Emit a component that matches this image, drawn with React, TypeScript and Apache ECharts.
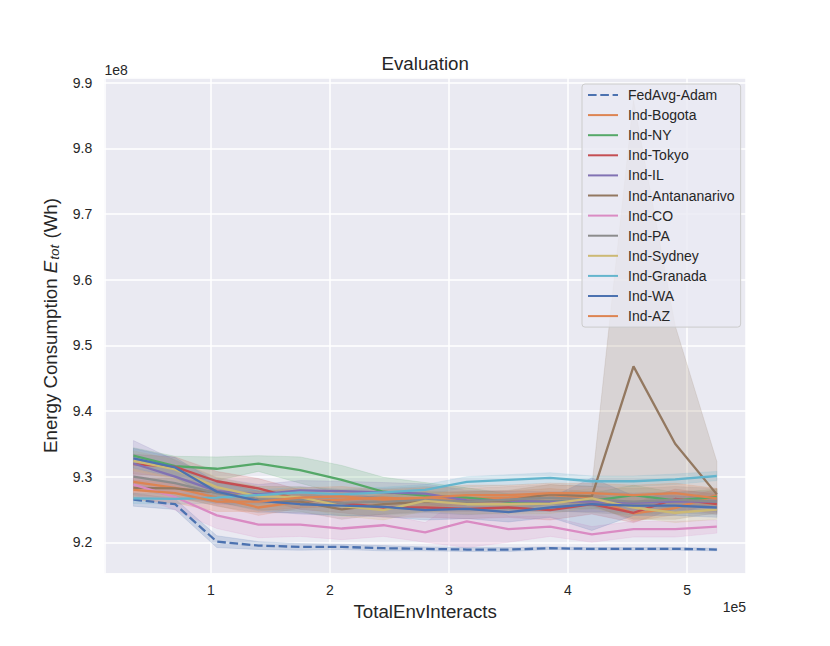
import React, { useEffect, useRef } from "react";
import * as echarts from "echarts";

// x positions (units of 1e5 TotalEnvInteracts)
const steps = [0.35, 0.7, 1.05, 1.4, 1.75, 2.1, 2.45, 2.8, 3.15, 3.5, 3.85, 4.2, 4.55, 4.9, 5.25];

const seriesNames = [
  "FedAvg-Adam",
  "Ind-Bogota",
  "Ind-NY",
  "Ind-Tokyo",
  "Ind-IL",
  "Ind-Antananarivo",
  "Ind-CO",
  "Ind-PA",
  "Ind-Sydney",
  "Ind-Granada",
  "Ind-WA",
  "Ind-AZ",
];

const seriesColors = [
  "#4C72B0", "#DD8452", "#55A868", "#C44E52", "#8172B3", "#937860",
  "#DA8BC3", "#8C8C8C", "#CCB974", "#64B5CD", "#4C72B0", "#DD8452",
];

// mean values (units of 1e8 Wh)
const fedAvgAdam = [9.265, 9.258, 9.201, 9.195, 9.193, 9.193, 9.191, 9.19, 9.189, 9.189, 9.191, 9.19, 9.19, 9.19, 9.189];
const indBogota = [9.292, 9.283, 9.268, 9.253, 9.262, 9.265, 9.268, 9.265, 9.267, 9.268, 9.272, 9.267, 9.244, 9.252, 9.272];
const indNY = [9.332, 9.316, 9.312, 9.32, 9.31, 9.295, 9.277, 9.271, 9.268, 9.262, 9.262, 9.263, 9.272, 9.264, 9.269];
const indTokyo = [9.319, 9.315, 9.293, 9.282, 9.265, 9.26, 9.253, 9.253, 9.251, 9.253, 9.249, 9.258, 9.245, 9.266, 9.258];
const indIL = [9.32, 9.3, 9.278, 9.273, 9.279, 9.278, 9.276, 9.274, 9.264, 9.263, 9.262, 9.262, 9.26, 9.262, 9.262];
const indAntananarivo = [9.283, 9.282, 9.276, 9.265, 9.262, 9.25, 9.258, 9.262, 9.262, 9.264, 9.273, 9.27, 9.468, 9.35, 9.273];
const indCO = [9.288, 9.269, 9.241, 9.227, 9.227, 9.221, 9.226, 9.215, 9.232, 9.22, 9.224, 9.212, 9.22, 9.22, 9.224];
const indPA = [9.3, 9.29, 9.275, 9.265, 9.265, 9.26, 9.262, 9.265, 9.262, 9.265, 9.268, 9.265, 9.262, 9.265, 9.262];
const indSydney = [9.324, 9.311, 9.284, 9.27, 9.269, 9.255, 9.249, 9.263, 9.258, 9.258, 9.259, 9.267, 9.253, 9.245, 9.25];
const indGranada = [9.267, 9.266, 9.268, 9.272, 9.276, 9.273, 9.276, 9.28, 9.292, 9.295, 9.298, 9.293, 9.293, 9.296, 9.301];
const indWA = [9.328, 9.314, 9.277, 9.263, 9.258, 9.256, 9.254, 9.249, 9.251, 9.246, 9.253, 9.258, 9.256, 9.256, 9.253];
const indAZ = [9.28, 9.275, 9.262, 9.262, 9.268, 9.27, 9.265, 9.268, 9.272, 9.272, 9.275, 9.275, 9.272, 9.275, 9.267];

// confidence band half widths
const fedAvgAdamCI = [0.01, 0.008, 0.009, 0.006, 0.005, 0.004, 0.004, 0.003, 0.003, 0.003, 0.002, 0.002, 0.002, 0.002, 0.002];
const indBogotaCI = [0.02, 0.015, 0.012, 0.012, 0.01, 0.01, 0.01, 0.01, 0.01, 0.01, 0.01, 0.01, 0.012, 0.01, 0.01];
const indNYCI = [0.012, 0.015, 0.018, 0.012, 0.02, 0.022, 0.022, 0.02, 0.015, 0.012, 0.01, 0.012, 0.015, 0.012, 0.012];
const indTokyoCI = [0.015, 0.015, 0.015, 0.015, 0.015, 0.015, 0.015, 0.015, 0.015, 0.015, 0.015, 0.015, 0.015, 0.015, 0.015];
const indILCI = [0.035, 0.025, 0.02, 0.015, 0.015, 0.015, 0.015, 0.015, 0.015, 0.015, 0.015, 0.015, 0.015, 0.015, 0.015];
const indCOCI = [0.015, 0.02, 0.02, 0.02, 0.018, 0.017, 0.017, 0.015, 0.04, 0.02, 0.015, 0.012, 0.012, 0.012, 0.01];
const indPACI = [0.02, 0.02, 0.02, 0.02, 0.02, 0.02, 0.02, 0.02, 0.02, 0.02, 0.02, 0.02, 0.02, 0.02, 0.02];
const indSydneyCI = [0.015, 0.015, 0.015, 0.015, 0.015, 0.015, 0.015, 0.015, 0.015, 0.015, 0.015, 0.015, 0.015, 0.015, 0.015];
const indGranadaCI = [0.008, 0.008, 0.008, 0.008, 0.008, 0.008, 0.008, 0.008, 0.008, 0.008, 0.008, 0.008, 0.008, 0.008, 0.007];
const indWACI = [0.015, 0.015, 0.015, 0.015, 0.015, 0.015, 0.015, 0.015, 0.015, 0.015, 0.015, 0.04, 0.015, 0.015, 0.015];
const indAZCI = [0.015, 0.015, 0.015, 0.015, 0.015, 0.015, 0.015, 0.015, 0.015, 0.015, 0.015, 0.015, 0.015, 0.015, 0.015];

// Antananarivo has an asymmetric band
const indAntananarivoLow = [9.268, 9.267, 9.261, 9.25, 9.247, 9.235, 9.243, 9.247, 9.247, 9.249, 9.258, 9.255, 9.235, 9.235, 9.245];
const indAntananarivoHigh = [9.298, 9.297, 9.291, 9.28, 9.277, 9.265, 9.273, 9.277, 9.277, 9.279, 9.288, 9.285, 9.873, 9.53, 9.323];

const means = [fedAvgAdam, indBogota, indNY, indTokyo, indIL, indAntananarivo, indCO, indPA, indSydney, indGranada, indWA, indAZ];
const halfWidths = [fedAvgAdamCI, indBogotaCI, indNYCI, indTokyoCI, indILCI, null, indCOCI, indPACI, indSydneyCI, indGranadaCI, indWACI, indAZCI];

const yTicks = [9.2, 9.3, 9.4, 9.5, 9.6, 9.7, 9.8, 9.9];
const xTicks = [1, 2, 3, 4, 5];

const FONT = "'Liberation Sans', Arial, sans-serif";
const TEXT = "#262626";

export default function App() {
  const ref = useRef<HTMLDivElement>(null);

  useEffect(() => {
    if (!ref.current) return;
    const chart = echarts.init(ref.current, undefined, { renderer: "svg" });

    const bandSeries: any[] = [];
    const lineSeries: any[] = [];
    seriesNames.forEach((name, i) => {
      const m = means[i];
      const hw = halfWidths[i];
      const lo = hw ? m.map((v, k) => v - hw[k]) : indAntananarivoLow;
      const hi = hw ? m.map((v, k) => v + hw[k]) : indAntananarivoHigh;
      const color = seriesColors[i];
      bandSeries.push({
        type: "custom",
        name: "_band" + i,
        silent: true,
        z: 1,
        data: steps.map((x, k) => [x, lo[k], hi[k]]),
        encode: { x: 0, y: [1, 2] },
        renderItem: (params: any, api: any) => {
          if (params.dataIndex !== 0) return null;
          const top = steps.map((x, k) => api.coord([x, hi[k]]));
          const bottom = steps.map((x, k) => api.coord([x, lo[k]])).reverse();
          return {
            type: "polygon",
            shape: { points: [...top, ...bottom] },
            style: { fill: color, stroke: color, lineWidth: 0.8, opacity: 0.2 },
          };
        },
      });
      lineSeries.push({
        type: "line",
        name,
        symbol: "none",
        silent: true,
        color,
        lineStyle: {
          color,
          width: 2.3,
          type: i === 0 ? [8.6, 3.7] : "solid",
        },
        data: steps.map((x, k) => [x, m[k]]),
        z: 2,
      });
    });

    const isTick = (v: number, ticks: number[]) => ticks.some((t) => Math.abs(t - v) < 1e-6);

    chart.setOption({
      animation: false,
      backgroundColor: "#ffffff",
      grid: {
        left: 104.3,
        right: 84,
        top: 77.7,
        bottom: 72.7,
        show: true,
        backgroundColor: "#EAEAF2",
        borderWidth: 0,
        containLabel: false,
      },
      xAxis: {
        type: "value",
        min: 0.105,
        max: 5.495,
        splitNumber: 5,
        axisLine: { show: false },
        axisTick: { show: false },
        splitLine: { show: true, lineStyle: { color: "#ffffff", width: 1.5 } },
        axisLabel: {
          margin: 10,
          fontSize: 14,
          fontFamily: FONT,
          color: TEXT,
          showMinLabel: false,
          showMaxLabel: false,
          formatter: (v: number) => (isTick(v, xTicks) ? String(Math.round(v)) : ""),
        },
        name: "TotalEnvInteracts",
        nameLocation: "middle",
        nameGap: 28,
        nameTextStyle: { fontSize: 18.7, fontFamily: FONT, color: TEXT },
      },
      yAxis: {
        type: "value",
        min: 9.1528,
        max: 9.9076,
        splitNumber: 7,
        axisLine: { show: false },
        axisTick: { show: false },
        splitLine: { show: true, lineStyle: { color: "#ffffff", width: 1.5 } },
        axisLabel: {
          margin: 12,
          fontSize: 14,
          fontFamily: FONT,
          color: TEXT,
          showMinLabel: false,
          showMaxLabel: false,
          formatter: (v: number) => (isTick(v, yTicks) ? v.toFixed(1) : ""),
        },
        name: "{n|Energy Consumption }{e|E}{s|tot}{n| (Wh)}",
        nameLocation: "middle",
        nameGap: 35.5,
        nameTextStyle: {
          fontSize: 18.7,
          fontFamily: FONT,
          color: TEXT,
          rich: {
            n: { fontSize: 18.7, fontFamily: FONT, color: TEXT },
            e: { fontSize: 18.7, fontFamily: FONT, color: TEXT, fontStyle: "italic", padding: [0, 1, 0, 0] },
            s: { fontSize: 13.5, fontFamily: FONT, color: TEXT, fontStyle: "italic", padding: [9, 1, 0, 0] },
          },
        },
      },
      legend: {
        orient: "vertical",
        left: 582,
        top: 84,
        itemWidth: 30,
        itemHeight: 14,
        itemGap: 6.1,
        padding: [4, 6, 4, 5],
        backgroundColor: "rgba(234,234,242,0.8)",
        borderColor: "#cccccc",
        borderWidth: 1,
        borderRadius: 3,
        selectedMode: false,
        itemStyle: { opacity: 0 },
        textStyle: { fontSize: 14, fontFamily: FONT, color: TEXT, padding: [0, 0, 0, 5] },
        data: seriesNames,
      },
      graphic: [
        {
          type: "text",
          x: 425.2,
          y: 63.8,
          style: { text: "Evaluation", fontSize: 18.7, fontFamily: FONT, fill: TEXT, align: "center", verticalAlign: "middle" },
        },
        {
          type: "text",
          x: 104.5,
          y: 69.7,
          style: { text: "1e8", fontSize: 14, fontFamily: FONT, fill: TEXT, align: "left", verticalAlign: "middle" },
        },
        {
          type: "text",
          x: 746,
          y: 606.7,
          style: { text: "1e5", fontSize: 14, fontFamily: FONT, fill: TEXT, align: "right", verticalAlign: "middle" },
        },
      ],
      series: [...bandSeries, ...lineSeries],
    });

    return () => chart.dispose();
  }, []);

  return (
    <div
      ref={ref}
      style={{ position: "fixed", left: 0, top: 0, width: 830, height: 646, background: "#ffffff" }}
    />
  );
}
